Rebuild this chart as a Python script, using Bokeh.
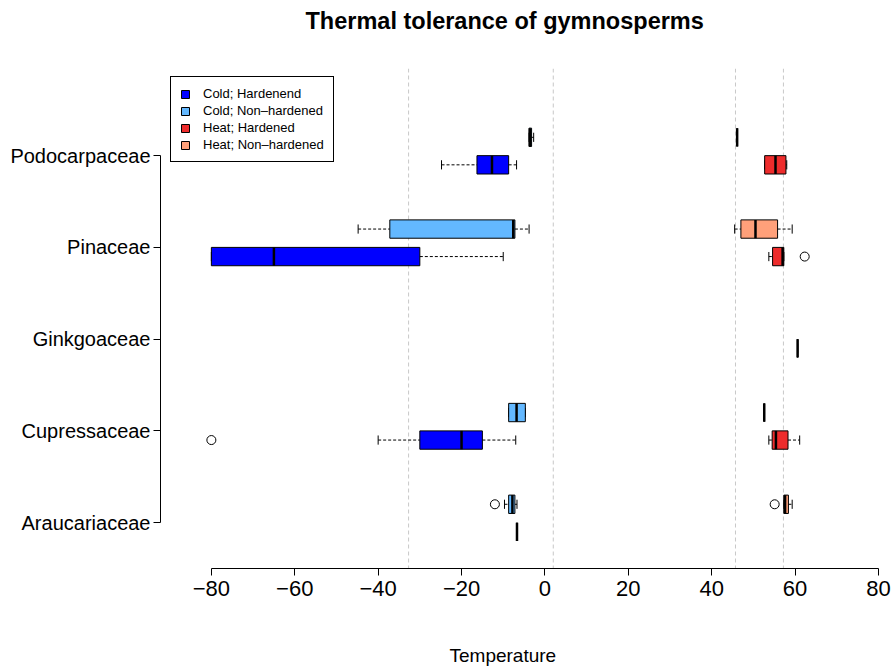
from bokeh.plotting import figure
from bokeh.models import (ColumnDataSource, FixedTicker, Span, Legend, LegendItem, Range1d, Title)
from bokeh.embed import file_html
from bokeh.resources import INLINE

# ---------------- data ----------------
families = ["Araucariaceae", "Cupressaceae", "Ginkgoaceae", "Pinaceae", "Podocarpaceae"]

series_names = ["Cold; Hardenend", "Cold; Non\u2013hardened", "Heat; Hardened", "Heat; Non\u2013hardened"]
series_colors = ["#0000FF", "#63B8FF", "#EE2C2C", "#FFA07A"]

# (lower whisker, Q1, median, Q3, upper whisker) per family, None where no data
cold_hardened = [(-6.7, -6.7, -6.7, -6.7, -6.7),
                 (-40.0, -30.0, -20.0, -15.0, -7.0),
                 None,
                 (-80.0, -80.0, -65.0, -30.0, -10.0),
                 (-24.8, -16.3, -12.7, -8.7, -6.8)]
cold_nonhardened = [(-9.7, -8.7, -7.8, -7.2, -6.7),
                    (-8.7, -8.7, -6.8, -4.7, -4.7),
                    None,
                    (-44.8, -37.2, -7.6, -7.2, -3.8),
                    (-3.8, -3.8, -3.6, -3.2, -2.7)]
heat_hardened = [None,
                 (53.7, 54.5, 55.4, 58.3, 61.1),
                 (60.6, 60.6, 60.6, 60.6, 60.6),
                 (53.7, 54.6, 57.0, 57.3, 57.3),
                 (52.7, 52.7, 55.3, 57.8, 58.0)]
heat_nonhardened = [(57.3, 57.3, 57.6, 58.4, 59.3),
                    (52.6, 52.6, 52.6, 52.6, 52.6),
                    None,
                    (45.5, 47.0, 50.5, 55.8, 59.3),
                    (46.1, 46.1, 46.1, 46.1, 46.1)]

# outliers per family
cold_hardened_out = [[], [-80.0], [], [], []]
cold_nonhardened_out = [[-12.0], [], [], [], []]
heat_hardened_out = [[], [], [], [62.3], []]
heat_nonhardened_out = [[55.1], [], [], [], []]

# dashed reference lines
ref_lines = [-32.7, 2.0, 45.7, 57.2]

x_ticks = [-80, -60, -40, -20, 0, 20, 40, 60, 80]

title_text = "Thermal tolerance of gymnosperms"
x_label_text = "Temperature"

# ---------------- layout / style ----------------
series_stats = [cold_hardened, cold_nonhardened, heat_hardened, heat_nonhardened]
series_out = [cold_hardened_out, cold_nonhardened_out, heat_hardened_out, heat_nonhardened_out]
series_offset = [-0.1, 0.2, -0.1, 0.2]
half_box = 0.1
half_cap = 0.05
FONT = "Liberation Sans"

W, H = 893, 668
FR_L, FR_R, FR_T, FR_B = 160, 893, 68, 568      # frame edges in pixels

p = figure(width=W, height=H, output_backend="svg", toolbar_location=None,
           x_range=Range1d(-92.2, 83.6), y_range=Range1d(0.5, 5.95),
           min_border_left=FR_L, min_border_right=W - FR_R,
           min_border_top=FR_T, min_border_bottom=H - FR_B)
p.title = None
p.outline_line_color = None
p.xgrid.visible = False
p.ygrid.visible = False
p.background_fill_color = "white"
p.border_fill_color = "white"

for v in ref_lines:
    p.add_layout(Span(location=v, dimension="height", line_color="#C8C8C8",
                      line_dash="4 3", line_width=1, level="underlay"))

positions = list(range(1, len(families) + 1))
legend_items = []
for name, color, stats, outs, off in zip(series_names, series_colors, series_stats, series_out, series_offset):
    d = dict(y=[], lo=[], q1=[], med=[], q3=[], hi=[], bot=[], top=[], cb=[], ct=[])
    ox, oy = [], []
    for pos, st, ol in zip(positions, stats, outs):
        yy = pos + off
        for o in ol:
            ox.append(o)
            oy.append(yy)
        if st is None:
            continue
        lo, q1, med, q3, hi = st
        d["y"].append(yy); d["lo"].append(lo); d["q1"].append(q1); d["med"].append(med)
        d["q3"].append(q3); d["hi"].append(hi)
        d["bot"].append(yy - half_box); d["top"].append(yy + half_box)
        d["cb"].append(yy - half_cap); d["ct"].append(yy + half_cap)
    src = ColumnDataSource(d)
    p.segment(x0="lo", y0="y", x1="q1", y1="y", source=src, line_color="black",
              line_dash="3 2", line_width=1)
    p.segment(x0="q3", y0="y", x1="hi", y1="y", source=src, line_color="black",
              line_dash="3 2", line_width=1)
    p.segment(x0="lo", y0="cb", x1="lo", y1="ct", source=src, line_color="black", line_width=1)
    p.segment(x0="hi", y0="cb", x1="hi", y1="ct", source=src, line_color="black", line_width=1)
    r = p.quad(left="q1", right="q3", bottom="bot", top="top", source=src,
               fill_color=color, line_color="black", line_width=1)
    p.segment(x0="med", y0="bot", x1="med", y1="top", source=src, line_color="black", line_width=2.5)
    if ox:
        p.scatter(x=ox, y=oy, marker="circle", size=9, fill_color=None,
                  line_color="black", line_width=1)
    legend_items.append(LegendItem(label=name, renderers=[r]))

legend = Legend(items=legend_items, location=(10, 406), margin=0, padding=9,
                spacing=2, label_height=13, glyph_width=10, glyph_height=10,
                label_standoff=13, label_text_font=FONT, label_text_font_size="13px",
                label_text_color="black",
                border_line_color="black", border_line_width=1, border_line_alpha=1.0,
                background_fill_alpha=1.0)
p.add_layout(legend, "center")

# axes
xa = p.xaxis[0]
xa.ticker = FixedTicker(ticks=x_ticks)
xa.bounds = (x_ticks[0], x_ticks[-1])
xa.major_label_overrides = {t: (("\u2212" + str(-t)) if t < 0 else str(t)) for t in x_ticks}
xa.major_tick_out = 7
xa.major_tick_in = 0
xa.minor_tick_line_color = None
xa.axis_line_color = "black"
xa.major_tick_line_color = "black"
xa.major_label_text_font = FONT
xa.major_label_text_font_size = "22px"
xa.major_label_text_color = "black"
xa.major_label_standoff = 5

ya = p.yaxis[0]
ya.ticker = FixedTicker(ticks=positions)
ya.bounds = (positions[0], positions[-1])
ya.major_label_overrides = {pos: f for pos, f in zip(positions, families)}
ya.major_tick_out = 7
ya.major_tick_in = 0
ya.minor_tick_line_color = None
ya.axis_line_color = "black"
ya.major_tick_line_color = "black"
ya.major_label_text_font = FONT
ya.major_label_text_font_size = "20px"
ya.major_label_text_color = "black"
ya.major_label_standoff = 3

# title (spacer first so that the title sits higher, as in the original)
p.add_layout(Title(text="\u00a0", text_font_size="1px", standoff=31), "above")
p.add_layout(Title(text=title_text, text_font=FONT, text_font_size="23.5px",
                   text_font_style="bold", text_color="black", align="left",
                   vertical_align="middle", offset=145, standoff=0), "above")

# x-axis label as a below title, left-offset to match the original centring
p.add_layout(Title(text="\u00a0", text_font_size="1px", standoff=42), "below")
p.add_layout(Title(text=x_label_text, text_font=FONT, text_font_size="19px",
                   text_font_style="normal", text_color="black", align="left",
                   vertical_align="middle", offset=289, standoff=0), "below")

open("out.html", "w").write(file_html(p, INLINE))
